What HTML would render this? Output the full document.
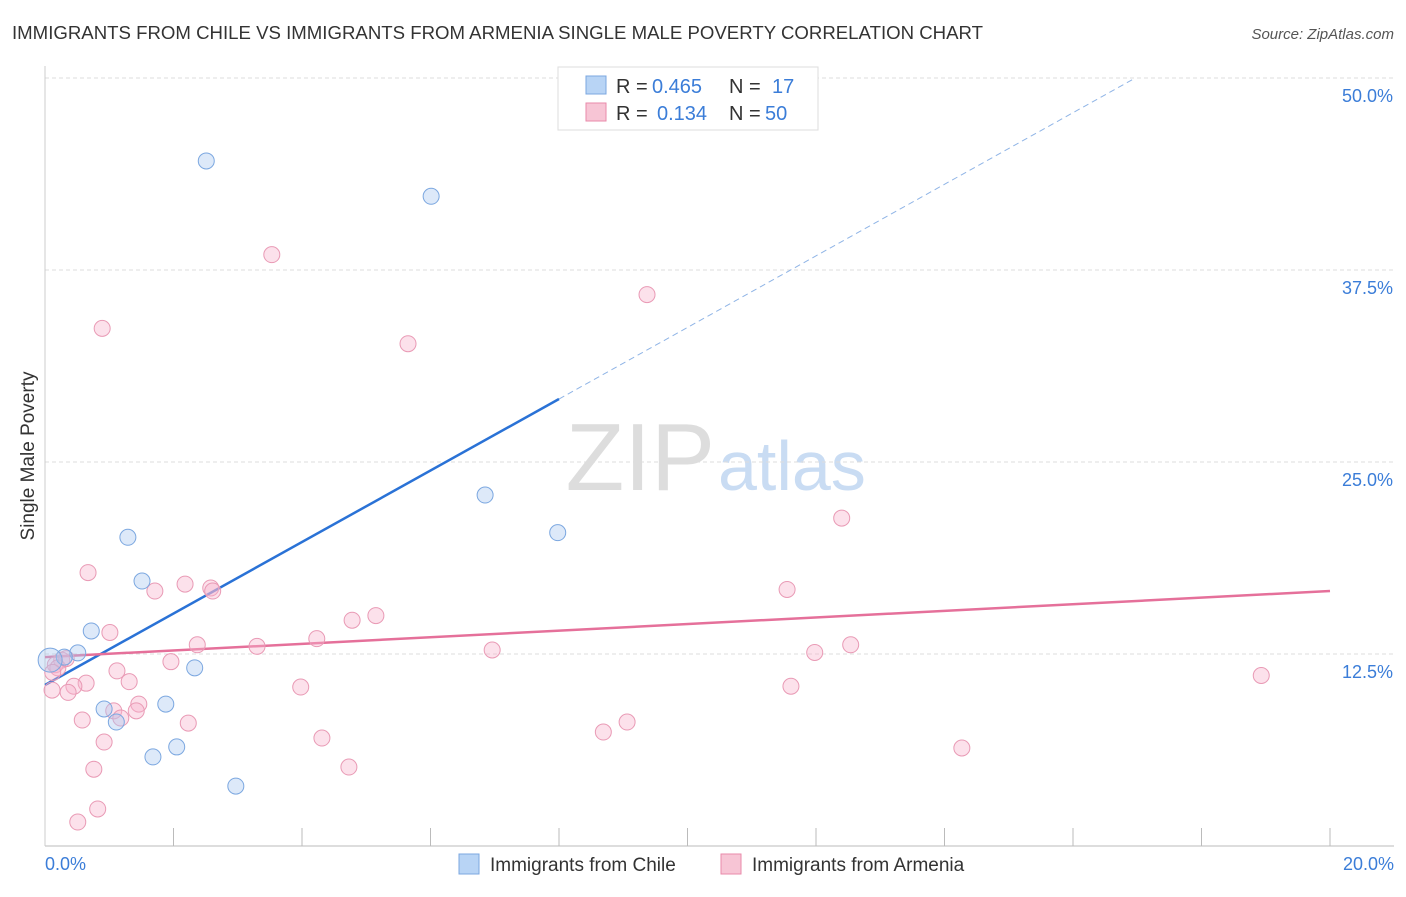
<!DOCTYPE html>
<html><head><meta charset="utf-8"><style>
body{margin:0;background:#fff;font-family:"Liberation Sans",sans-serif;}
svg text{font-family:"Liberation Sans",sans-serif;}
</style></head><body>
<svg id="c" width="1406" height="892">
<text x="12" y="39" font-size="18" fill="#333" textLength="971" lengthAdjust="spacingAndGlyphs">IMMIGRANTS FROM CHILE VS IMMIGRANTS FROM ARMENIA SINGLE MALE POVERTY CORRELATION CHART</text>
<text x="1394" y="39" font-size="15" fill="#555" text-anchor="end" font-style="italic">Source: ZipAtlas.com</text>
<text x="715" y="490" font-size="96" fill="#ddd" text-anchor="end" font-family="Liberation Serif">ZIP</text>
<text x="718" y="490" font-size="70" fill="#c9dcf3">atlas</text>
<text transform="translate(34,456) rotate(-90)" font-size="19" fill="#333" text-anchor="middle">Single Male Poverty</text>
<g id="grid"></g><g id="lines"></g><g id="pts"></g>
<g>
<rect x="558" y="67" width="260" height="63" fill="#fff" stroke="#ddd"/>
<rect x="586" y="76" width="20" height="18" fill="#b8d4f5" stroke="#7ba7e0"/>
<rect x="586" y="103" width="20" height="18" fill="#f7c5d5" stroke="#e88aaa"/>
<text x="616" y="93" font-size="20" fill="#333">R =</text>
<text x="652" y="93" font-size="20" fill="#3b7dd8">0.465</text>
<text x="729" y="93" font-size="20" fill="#333">N =</text>
<text x="772" y="93" font-size="20" fill="#3b7dd8">17</text>
<text x="616" y="120" font-size="20" fill="#333">R =</text>
<text x="657" y="120" font-size="20" fill="#3b7dd8">0.134</text>
<text x="729" y="120" font-size="20" fill="#333">N =</text>
<text x="765" y="120" font-size="20" fill="#3b7dd8">50</text>
</g>
<g>
<rect x="459" y="854" width="20" height="20" fill="#b8d4f5" stroke="#7ba7e0"/>
<text x="490" y="871" font-size="19" fill="#333">Immigrants from Chile</text>
<rect x="721" y="854" width="20" height="20" fill="#f7c5d5" stroke="#e88aaa"/>
<text x="752" y="871" font-size="19" fill="#333">Immigrants from Armenia</text>
</g>
</svg>
<script>
const yTicks=[12.5,25,37.5,50];
const xTickLabels=["0.0%","20.0%"];
const chileX=[2.51,6.01,6.85,7.98,1.29,1.51,0.72,0.51,0.30,0.08,2.33,1.88,0.92,1.11,2.05,1.68,2.97];
const chileY=[44.6,42.3,22.85,20.4,20.1,17.25,14.0,12.57,12.3,12.1,11.6,9.24,8.92,8.07,6.45,5.8,3.9];
const armX=[3.53,0.89,5.65,9.37,12.4,0.67,2.18,2.58,2.61,1.71,11.55,5.15,4.78,1.01,4.23,2.37,3.3,12.54,11.98,6.96,0.26,0.16,1.96,1.12,18.93,1.31,0.64,0.45,3.98,11.61,0.11,0.36,1.46,1.42,1.07,1.18,0.58,2.23,9.06,8.69,4.31,0.92,14.27,0.76,4.73,0.82,0.51,0.2,0.33,0.12];
const armY=[38.5,33.7,32.7,35.9,21.35,17.8,17.05,16.8,16.6,16.6,16.7,15.0,14.7,13.9,13.5,13.1,13.0,13.1,12.6,12.76,12.1,11.8,12.0,11.4,11.1,10.7,10.6,10.4,10.35,10.4,10.15,10.0,9.24,8.8,8.8,8.33,8.2,8.0,8.07,7.42,7.03,6.77,6.38,5.0,5.14,2.41,1.56,11.6,12.2,11.3];
const chileLine=[10.48,29.1];const chileDashEnd=[16.97,50];
const armLine=[12.3,16.6];
const X=v=>45+v*64.25, Y=v=>846-v*15.36;
const NS="http://www.w3.org/2000/svg";
function mk(p,t,a){const e=document.createElementNS(NS,t);for(const k in a)e.setAttribute(k,a[k]);p.appendChild(e);return e;}
const g=document.getElementById('grid');
for(const t of yTicks){const l=mk(g,'line',{x1:45,x2:1394,y1:Y(t),y2:Y(t),stroke:'#ddd','stroke-dasharray':'4,3'});


const tx=mk(g,'text',{x:1393,y:Y(t)+24,'font-size':18,fill:'#3b7dd8','text-anchor':'end'});tx.textContent=t.toFixed(1)+'%';

}
const ax=mk(g,'line',{x1:45,x2:1394,y1:846,y2:846,stroke:'#bbb'});


const ay=mk(g,'line',{x1:45,x2:45,y1:66,y2:846,stroke:'#ccc'});


for(let i=1;i<=10;i++){const l=mk(g,'line',{x1:X(i*2),x2:X(i*2),y1:828,y2:846,stroke:'#bbb'});

}
[[0,'start',45],[20,'end',1394]].forEach((d,i)=>{const t=mk(g,'text',{x:d[2],y:870,'font-size':18,fill:'#3b7dd8','text-anchor':d[1]});t.textContent=xTickLabels[i];

});
const pg=document.getElementById('pts');
armX.forEach((x,i)=>{const c=mk(pg,'circle',{cx:X(x),cy:Y(armY[i]),r:8,fill:'rgba(247,180,205,0.4)',stroke:'#e99ab5','stroke-width':1});

});
chileX.forEach((x,i)=>{const c=mk(pg,'circle',{cx:X(x),cy:Y(chileY[i]),r:i==9?12:8,fill:'rgba(170,200,240,0.4)',stroke:'#7ba7e0','stroke-width':1});

});
const lg=document.getElementById('lines');
const b=mk(lg,'line',{x1:X(0),y1:Y(chileLine[0]),x2:X(8),y2:Y(chileLine[1]),stroke:'#2a72d6','stroke-width':2.5});


const bd=mk(lg,'line',{x1:X(8),y1:Y(chileLine[1]),x2:X(chileDashEnd[0]),y2:Y(chileDashEnd[1]),stroke:'#8fb4e6','stroke-width':1,'stroke-dasharray':'6,4'});


const p=mk(lg,'line',{x1:X(0),y1:Y(armLine[0]),x2:X(20),y2:Y(armLine[1]),stroke:'#e5709a','stroke-width':2.5});


</script>
</body></html>
